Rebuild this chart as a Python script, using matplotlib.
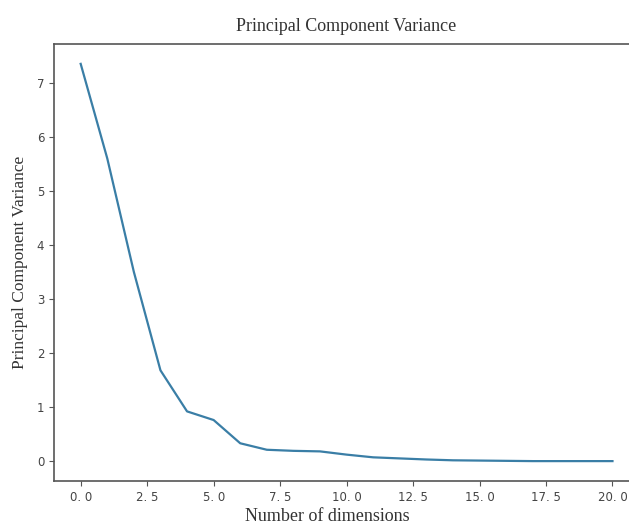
import matplotlib
matplotlib.use("Agg")
import matplotlib.pyplot as plt

dims = list(range(21))
variance = [7.35, 5.6, 3.5, 1.68, 0.92, 0.76, 0.33, 0.21, 0.19, 0.18, 0.12,
            0.07, 0.05, 0.03, 0.015, 0.01, 0.005, 0.0, 0.0, 0.0, 0.0]
title = "Principal Component Variance"
xlabel = "Number of dimensions"
ylabel = "Principal Component Variance"
xticks = [0, 2.5, 5, 7.5, 10, 12.5, 15, 17.5, 20]
xticklabels = ["0. 0", "2. 5", "5. 0", "7. 5", "10. 0", "12. 5", "15. 0", "17. 5", "20. 0"]

fig = plt.figure(figsize=(6.29, 5.30), dpi=100)
ax = fig.add_axes([0.086, 0.0925, 0.93, 0.8245])
ax.plot(dims, variance, color="#3a7ea6", linewidth=1.6)
ax.set_xticks(xticks)
ax.set_xticklabels(xticklabels)
serif = ["Liberation Serif", "DejaVu Serif"]
ax.set_title(title, fontsize=13, family=serif, color="#333333", pad=9)
ax.set_xlabel(xlabel, fontsize=13, family=serif, color="#333333")
ax.set_ylabel(ylabel, fontsize=12.5, family=serif, color="#333333")
ax.xaxis.set_label_coords((327 - 54) / 585.0, -0.062)
ax.yaxis.set_label_coords(-0.044, 0.5)
for lab in ax.get_xticklabels() + ax.get_yticklabels():
    lab.set_family(["DejaVu Sans"])
    lab.set_fontsize(8.5)
    lab.set_color("#444444")
for s in ax.spines.values():
    s.set_color("#555555")
    s.set_linewidth(1.2)
ax.tick_params(colors="#555555", labelcolor="#444444", length=3.5)
fig.savefig("out.png", dpi=100)
